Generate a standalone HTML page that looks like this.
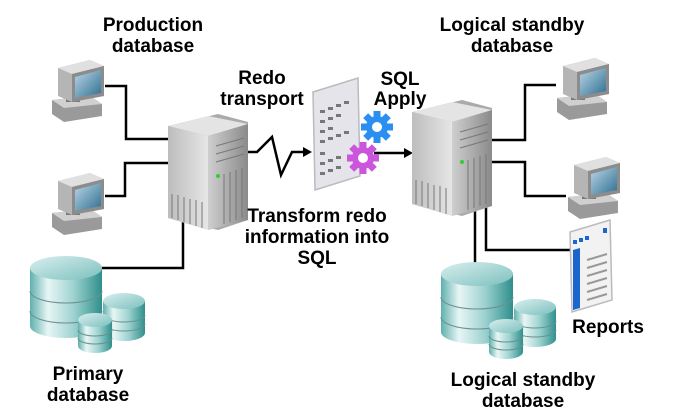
<!DOCTYPE html>
<html><head><meta charset="utf-8"><style>
html,body{margin:0;padding:0;background:#fff;}
svg{display:block;}
text{font-family:"Liberation Sans",Arial,sans-serif;font-weight:bold;font-size:19px;fill:#000;text-anchor:middle;}
</style></head><body>
<svg width="694" height="414" viewBox="0 0 694 414" xmlns="http://www.w3.org/2000/svg">
<defs>
<linearGradient id="cyl" x1="0" x2="1" y1="0" y2="0">
<stop offset="0" stop-color="#5fb0ae"/><stop offset="0.25" stop-color="#e8f6f5"/><stop offset="0.6" stop-color="#9fd3d1"/><stop offset="1" stop-color="#2f8f8c"/></linearGradient>
<linearGradient id="cyltop" x1="0" x2="1" y1="0" y2="1">
<stop offset="0" stop-color="#d8efee"/><stop offset="1" stop-color="#7cc0be"/></linearGradient>
<linearGradient id="srvf" x1="0" x2="1"><stop offset="0" stop-color="#cfcfcf"/><stop offset="1" stop-color="#8a8a8a"/></linearGradient>
<linearGradient id="srvs" x1="0" x2="1"><stop offset="0" stop-color="#bdbdbd"/><stop offset="1" stop-color="#e6e6e6"/></linearGradient>
<linearGradient id="scr" x1="0" x2="1" y1="0" y2="1"><stop offset="0" stop-color="#bcd6e6"/><stop offset="1" stop-color="#2e6f92"/></linearGradient>
<g id="db">
<path d="M0,12 L0,70 A36,12 0 0 0 72,70 L72,12 Z" fill="url(#cyl)"/>
<ellipse cx="36" cy="12" rx="36" ry="12" fill="url(#cyltop)"/>
<path d="M0,35 A36,12 0 0 0 72,35 M0,55 A36,12 0 0 0 72,55" fill="none" stroke="#6a8f8e" stroke-width="1"/>
<g transform="translate(73,37)">
<path d="M0,8 L0,40 A21,8 0 0 0 42,40 L42,8 Z" fill="url(#cyl)"/>
<ellipse cx="21" cy="8" rx="21" ry="8" fill="url(#cyltop)"/>
<path d="M0,22 A21,7 0 0 0 42,22 M0,31 A21,7 0 0 0 42,31" fill="none" stroke="#6a8f8e"/>
</g>
<g transform="translate(48,57)">
<path d="M0,7 L0,33 A17,7 0 0 0 34,33 L34,7 Z" fill="url(#cyl)"/>
<ellipse cx="17" cy="7" rx="17" ry="7" fill="url(#cyltop)"/>
<path d="M0,17 A17,6 0 0 0 34,17 M0,25 A17,6 0 0 0 34,25" fill="none" stroke="#6a8f8e"/>
</g>
</g>
<g id="srv">
<polygon points="0,12 50,0 80,8 80,106 50,116 0,104" fill="#aaa"/>
<polygon points="0,12 40,2 80,10 40,22" fill="#e4e4e4"/>
<polygon points="0,12 40,22 40,116 0,104" fill="url(#srvs)"/>
<polygon points="40,22 80,10 80,106 40,116" fill="url(#srvf)"/>
<g stroke="#777" stroke-width="1">
<line x1="48" y1="32" x2="76" y2="24"/><line x1="48" y1="40" x2="76" y2="32"/><line x1="48" y1="48" x2="76" y2="40"/>
<line x1="4" y1="80" x2="4" y2="104"/><line x1="10" y1="81" x2="10" y2="106"/><line x1="16" y1="83" x2="16" y2="108"/><line x1="22" y1="85" x2="22" y2="110"/><line x1="28" y1="86" x2="28" y2="112"/><line x1="34" y1="88" x2="34" y2="114"/>
<line x1="56" y1="60" x2="56" y2="110"/><line x1="62" y1="58" x2="62" y2="108"/><line x1="68" y1="56" x2="68" y2="106"/><line x1="74" y1="54" x2="74" y2="104"/>
</g>
<circle cx="50" cy="62" r="2" fill="#3c3"/>
</g>
<g id="pc">
<polygon points="2,40 40,36 52,44 52,56 14,62 2,54" fill="#9a9a9a"/>
<polygon points="2,40 40,36 52,44 14,48" fill="#d0d0d0"/>
<rect x="16" y="34" width="14" height="8" fill="#777"/>
<polygon points="8,8 40,0 54,6 54,36 22,42 8,36" fill="#b5b5b5"/>
<polygon points="8,8 40,0 54,6 22,14" fill="#e0e0e0"/>
<polygon points="22,14 54,6 54,36 22,42" fill="#8c8c8c"/>
<polygon points="25,17 51,10 51,33 25,38" fill="url(#scr)"/>
</g>
<g id="gear"><circle r="11"/><g><rect x="-3.5" y="-16" width="7" height="32"/><rect x="-3.5" y="-16" width="7" height="32" transform="rotate(45)"/><rect x="-3.5" y="-16" width="7" height="32" transform="rotate(90)"/><rect x="-3.5" y="-16" width="7" height="32" transform="rotate(135)"/></g><circle r="5" fill="#fff"/></g>
</defs>

<g fill="none" stroke="#000" stroke-width="2.5">
<polyline points="105,86 126,86 126,139 168,139"/>
<polyline points="105,196 125,196 125,163 168,163"/>
<polyline points="102,268 183,268 183,212"/>
<polyline points="248,152 257,152 272,137 281,175 292,152 308,152"/>
<polyline points="374,153 404,153"/>
<polyline points="492,140 525,140 525,85 556,85"/>
<polyline points="492,162 525,162 525,196 566,196"/>
<polyline points="486,205 486,250 570,250"/>
<polyline points="475,210 475,263"/>
</g>
<polygon points="312,152 303,147 303,157" fill="#000"/>
<polygon points="413,153 404,148 404,158" fill="#000"/>

<use href="#pc" x="50" y="60"/>
<use href="#pc" x="50" y="173"/>
<use href="#srv" x="168" y="114"/>
<use href="#db" x="30" y="256"/>

<polygon points="313,92 358,78 360,176 315,190" fill="#e4e4ea" stroke="#bbb" stroke-width="1.5"/>
<g fill="#777">
<rect x="320" y="110" width="5" height="3"/><rect x="328" y="107" width="5" height="3"/><rect x="336" y="104" width="5" height="3"/><rect x="344" y="101" width="5" height="3"/>
<rect x="320" y="120" width="5" height="3"/><rect x="328" y="117" width="5" height="3"/><rect x="336" y="114" width="5" height="3"/>
<rect x="320" y="130" width="5" height="3"/><rect x="328" y="127" width="5" height="3"/>
<rect x="320" y="140" width="5" height="3"/><rect x="328" y="137" width="5" height="3"/><rect x="336" y="134" width="5" height="3"/><rect x="344" y="131" width="5" height="3"/>
<rect x="320" y="152" width="5" height="3"/>
<rect x="320" y="162" width="5" height="3"/><rect x="328" y="159" width="5" height="3"/><rect x="336" y="156" width="5" height="3"/>
<rect x="320" y="172" width="5" height="3"/><rect x="328" y="169" width="5" height="3"/><rect x="336" y="166" width="5" height="3"/>
</g>
<use href="#gear" x="377" y="127" fill="#2a8ff0"/>
<use href="#gear" x="363" y="158" fill="#cc55dd"/>

<use href="#srv" x="412" y="100"/>
<use href="#pc" x="555" y="58"/>
<use href="#pc" x="566" y="157"/>
<g>
<polygon points="570,232 610,220 612,300 572,312" fill="#f2f2f2" stroke="#bbb" stroke-width="1.5"/>
<polygon points="573,250 580,248 580,308 573,310" fill="#1a66cc"/>
<g fill="#1a66cc"><rect x="573" y="240" width="4" height="4"/><rect x="579" y="238" width="4" height="4"/><rect x="585" y="236" width="4" height="4"/><rect x="603" y="228" width="4" height="5"/></g>
<g stroke="#999" stroke-width="2"><line x1="587" y1="260" x2="607" y2="254"/><line x1="587" y1="268" x2="607" y2="262"/><line x1="587" y1="276" x2="607" y2="270"/><line x1="587" y1="284" x2="607" y2="278"/><line x1="587" y1="292" x2="607" y2="286"/><line x1="587" y1="300" x2="607" y2="294"/></g>
</g>
<use href="#db" x="441" y="262"/>

<text x="153" y="31">Production</text><text x="153" y="52">database</text>
<text x="262" y="84">Redo</text><text x="262" y="105">transport</text>
<text x="400" y="85">SQL</text><text x="400" y="105">Apply</text>
<text x="512" y="31">Logical standby</text><text x="512" y="52">database</text>
<text x="317" y="222">Transform redo</text><text x="317" y="243">information into</text><text x="317" y="264">SQL</text>
<text x="608" y="333">Reports</text>
<text x="88" y="380">Primary</text><text x="88" y="401">database</text>
<text x="523" y="386">Logical standby</text><text x="523" y="407">database</text>
</svg>
</body></html>
